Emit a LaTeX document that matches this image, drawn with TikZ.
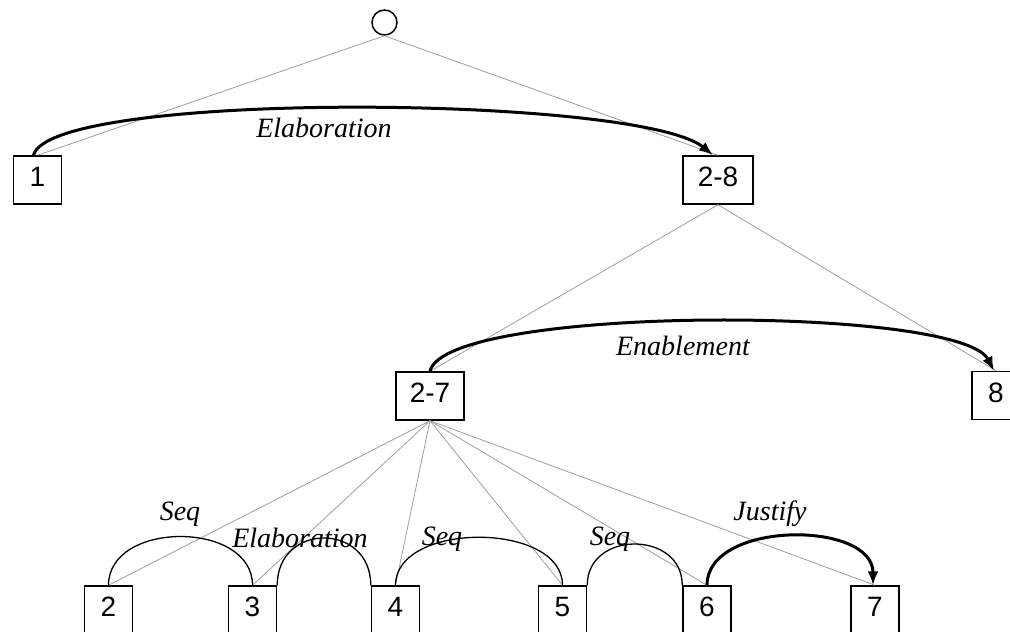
\documentclass[tikz,border=0pt]{standalone}
\usepackage{fontspec}
\setmainfont{Liberation Sans}
\newfontfamily\labfont{Liberation Serif}
\usetikzlibrary{arrows.meta}
\begin{document}
\begin{tikzpicture}[x=1pt,y=-1pt,
  box/.style={draw,line width=1.5pt,minimum width=48pt,minimum height=48pt,inner sep=0pt,text depth=6pt,font=\fontsize{28}{30}\selectfont},
  rootnode/.style={draw,circle,line width=1.5pt,minimum size=25pt,inner sep=0pt},
  tree/.style={draw=gray!75,line width=0.8pt},
  rel/.style={draw=black,line width=1.3pt},
  nuc/.style={draw=black,line width=3pt,-{Latex[length=14pt,width=11pt]}},
  lab/.style={font=\labfont\itshape\fontsize{28}{30}\selectfont,anchor=base,inner sep=0pt}
]
\useasboundingbox (0,0) rectangle (1010,632);
\clip (0,0) rectangle (1010,632);
\fill[white] (0,0) rectangle (1010,632);
% nodes
\node[rootnode] (root) at (384.5,22.5) {};
\node[box] (n1) at (37.5,180) {1};
\node[box,minimum width=70pt] (n28) at (718,180) {2-8};
\node[box,minimum width=68pt] (n27) at (430,396) {2-7};
\node[box] (n8) at (996,395.5) {8};
\node[box] (n2) at (108.5,610) {2};
\node[box] (n3) at (252.5,610) {3};
\node[box] (n4) at (395.5,610) {4};
\node[box] (n5) at (562.5,610) {5};
\node[box] (n6) at (707,610) {6};
\node[box] (n7) at (875,610) {7};
% tree lines
\draw[tree] (root.south) -- (n1.north);
\draw[tree] (root.south) -- (n28.north);
\draw[tree] (n28.south) -- (n27.north);
\draw[tree] (n28.south) -- (n8.north);
\foreach \c in {n2,n3,n4,n5,n6,n7} \draw[tree] (n27.south) -- (\c.north);
% relations
\draw[nuc] ([xshift=-4pt]n1.north) .. controls (50,90) and (640,95) .. ([xshift=-5pt]n28.north);
\draw[nuc] (n27.north) .. controls (445,305) and (960,305) .. ([xshift=-2pt]n8.north);
\draw[rel] (n2.north) .. controls +(0,-65) and +(0,-65) .. (n3.north);
\draw[rel] (n3.north east) .. controls +(0,-63) and +(0,-63) .. (n4.north west);
\draw[rel] (n4.north) .. controls +(0,-64) and +(0,-64) .. (n5.north);
\draw[rel] (n5.north east) .. controls +(0,-55) and +(0,-55) .. (n6.north west);
\draw[nuc] (n6.north) .. controls +(0,-65) and +(0,-65) .. ([xshift=-2pt]n7.north);
% labels
\node[lab] (la) at (324,137) {Elaboration};
\node[lab] (lb) at (683,355) {Enablement};
\node[lab] (lc) at (180,520) {Seq};
\node[lab] (ld) at (300,547) {Elaboration};
\node[lab] (le) at (442,545) {Seq};
\node[lab] (lf) at (610,545) {Seq};
\node[lab] (lg) at (770,520) {Justify};
\end{tikzpicture}
\end{document}
